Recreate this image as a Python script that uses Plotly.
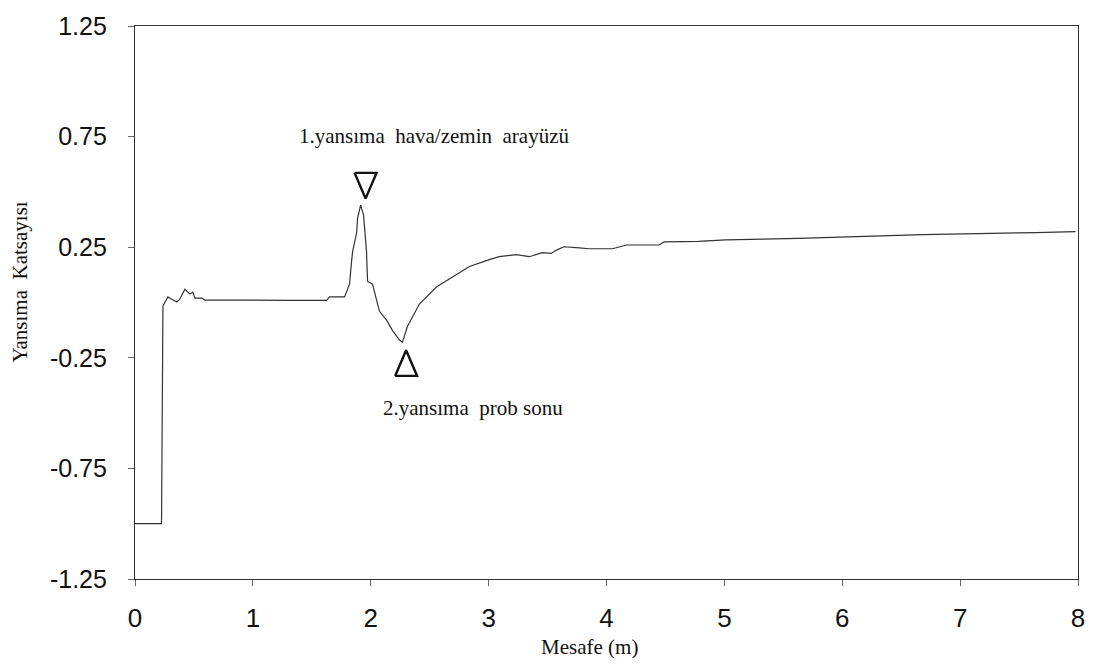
import plotly.graph_objects as go

# Reflection coefficient trace along the probe (distance in metres)
mesafe = [0.0, 0.10, 0.225, 0.237, 0.279, 0.30, 0.356, 0.381, 0.423, 0.466, 0.491, 0.508,
          0.567, 0.593, 0.80, 1.00, 1.30, 1.626, 1.651, 1.778, 1.795, 1.82, 1.837, 1.846,
          1.88, 1.888, 1.914, 1.939, 1.964, 1.973, 2.015, 2.049, 2.074, 2.134, 2.185,
          2.244, 2.269, 2.31, 2.354, 2.413, 2.557, 2.693, 2.837, 3.006, 3.09, 3.235,
          3.345, 3.455, 3.53, 3.58, 3.64, 3.77, 3.85, 4.05, 4.17, 4.445, 4.49, 4.78,
          5.01, 5.63, 6.54, 6.68, 7.64, 7.98]
yansima = [-1.0, -1.0, -1.0, -0.016, 0.025, 0.018, 0.002, 0.016, 0.06, 0.038, 0.047, 0.02,
           0.02, 0.011, 0.01, 0.01, 0.01, 0.01, 0.025, 0.025, 0.047, 0.083, 0.185, 0.23,
           0.314, 0.38, 0.44, 0.395, 0.23, 0.096, 0.083, 0.007, -0.04, -0.08, -0.127,
           -0.17, -0.18, -0.11, -0.065, -0.007, 0.07, 0.114, 0.163, 0.194, 0.207, 0.216,
           0.207, 0.225, 0.222, 0.238, 0.252, 0.247, 0.243, 0.243, 0.26, 0.26, 0.274,
           0.276, 0.283, 0.29, 0.305, 0.307, 0.316, 0.32]

# Reflection markers: first (air/soil interface, pointing down) and second (probe end, pointing up)
isaret_x = [1.956, 2.30]
isaret_y = [0.528, -0.274]
isaret_yon = [-1, 1]

etiketler = ["1.yansıma\u00a0 hava/zemin\u00a0 arayüzü", "2.yansıma\u00a0 prob sonu"]
etiket_x = [2.54, 2.87]
etiket_y = [0.752, -0.475]

x_ticks = [0, 1, 2, 3, 4, 5, 6, 7, 8]
y_ticks = [1.25, 0.75, 0.25, -0.25, -0.75, -1.25]

X_RANGE = [0, 8]
Y_RANGE = [-1.25, 1.25]
W, H = 1097, 664
M = dict(l=135, r=17, t=18, b=85)
px_x = (W - M["l"] - M["r"]) / (X_RANGE[1] - X_RANGE[0])
px_y = (H - M["t"] - M["b"]) / (Y_RANGE[1] - Y_RANGE[0])

fig = go.Figure()
fig.add_trace(go.Scatter(
    x=mesafe, y=yansima, mode="lines",
    line=dict(color="#333333", width=1.2),
    showlegend=False, hoverinfo="skip",
))

# Open isosceles triangles (taller than wide), sized in screen pixels
tri_w, tri_h = 22, 26
for cx, cy, d in zip(isaret_x, isaret_y, isaret_yon):
    hw = tri_w / 2 / px_x
    hh = tri_h / 2 / px_y
    tx = [cx - hw, cx + hw, cx, cx - hw]
    ty = [cy - d * hh, cy - d * hh, cy + d * hh, cy - d * hh]
    fig.add_trace(go.Scatter(
        x=tx, y=ty, mode="lines",
        line=dict(color="#111111", width=2.4),
        showlegend=False, hoverinfo="skip",
    ))

serif = "Liberation Serif, Times New Roman, serif"
for t, ax, ay in zip(etiketler, etiket_x, etiket_y):
    fig.add_annotation(x=ax, y=ay, text=t, showarrow=False,
                       font=dict(family=serif, size=21, color="#111111"))

# Axis titles
fig.add_annotation(xref="paper", yref="paper", x=0.4815, y=-0.123,
                   xanchor="center", yanchor="middle",
                   text="Mesafe (m)", showarrow=False,
                   font=dict(family=serif, size=21, color="#111111"))
fig.add_annotation(xref="paper", yref="paper", x=-0.1217, y=0.5365,
                   xanchor="center", yanchor="middle",
                   text="Yansıma\u00a0 Katsayısı", showarrow=False, textangle=-90,
                   font=dict(family=serif, size=21, color="#111111"))

sans = "Liberation Sans, Arial, sans-serif"
fig.update_xaxes(
    range=X_RANGE, tickvals=x_ticks, ticktext=[str(v) for v in x_ticks],
    showgrid=False, zeroline=False,
    showline=True, linecolor="#333333", linewidth=1.2, mirror=True,
    ticks="outside", ticklen=6, tickcolor="#666666", tickwidth=1,
    tickfont=dict(family=sans, size=26, color="#111111"), ticklabelstandoff=10,
)
fig.update_yaxes(
    range=Y_RANGE, tickvals=y_ticks, ticktext=[f"{v:.2f}" for v in y_ticks],
    showgrid=False, zeroline=False,
    showline=True, linecolor="#333333", linewidth=1.2, mirror=True,
    ticks="outside", ticklen=6, tickcolor="#666666", tickwidth=1,
    tickfont=dict(family=sans, size=25, color="#111111"), ticklabelstandoff=16,
)

fig.update_layout(
    width=W, height=H, margin=M,
    paper_bgcolor="white", plot_bgcolor="white",
)

fig.write_html("out.html")
